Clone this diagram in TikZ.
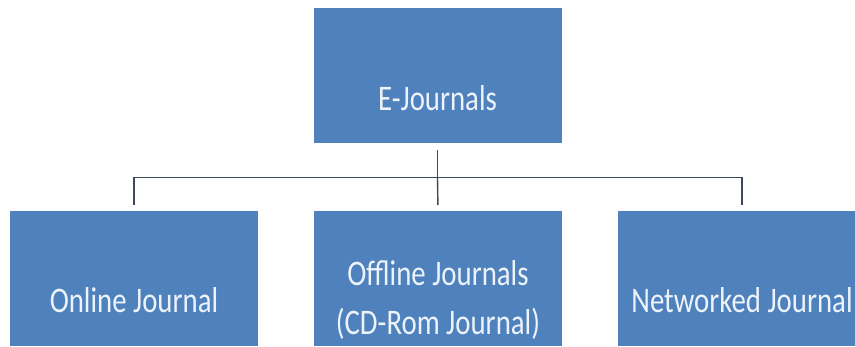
\documentclass[tikz,border=0pt]{standalone}
\usepackage{fontspec}
\setmainfont[FakeStretch=0.8]{Carlito}
\usepackage{xcolor}
\definecolor{journalBlue}{RGB}{79, 129, 189}
\definecolor{journalText}{RGB}{236, 243, 250}
\definecolor{journalLine}{RGB}{62, 72, 92}

\tikzset{
  jbox/.style={rectangle, fill=journalBlue, text=journalText, inner sep=0pt,
    minimum width=248pt, anchor=north, align=center,
    font=\fontsize{36}{49}\selectfont},
  link/.style={draw=journalLine, line width=1.4pt}
}

\begin{document}
\begin{tikzpicture}[x=1pt, y=1pt]
  \useasboundingbox (0,0) rectangle (855,346);
  \clip (0,0) rectangle (855,346);
  % root
  \node[jbox, text height=102pt, text depth=33pt] (ejournals) at (437.5,338) {E-Journals};
  % kinds of journals
  \node[jbox, text height=101pt, text depth=34pt] (online) at (134,135) {Online Journal};
  \node[jbox, text height=123pt, text depth=12pt] (offline) at (438,135) {Offline Journals\\(CD-Rom Journal)};
  \node[jbox, text height=101pt, text depth=34pt] (networked) at (742,135) {Networked Journal};
  % connectors
  \draw[link, shorten <=7pt] (ejournals.south) -- ++(0,-34) coordinate (hub);
  \draw[link, shorten >=6pt] (hub) -| (online.north);
  \draw[link, shorten >=6pt] (hub) -- (offline.north);
  \draw[link, shorten >=6pt] (hub) -| (networked.north);
\end{tikzpicture}
\end{document}
